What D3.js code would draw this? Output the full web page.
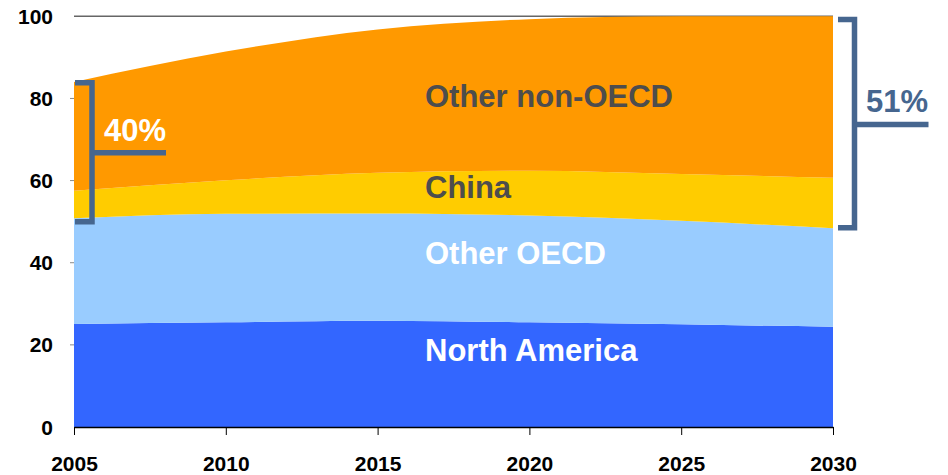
<!DOCTYPE html>
<html>
<head>
<meta charset="utf-8">
<script src="https://cdn.jsdelivr.net/npm/d3@7"></script>
<style>
  html, body { margin: 0; padding: 0; background: #fff; }
  svg { display: block; font-family: "Liberation Sans", Arial, sans-serif; }
</style>
</head>
<body>
<svg id="chart" width="948" height="475"></svg>
<script>
// ---- Data ----
const years = [2005, 2010, 2015, 2020, 2025, 2030];
const northAmerica = [25.1, 25.5, 25.9, 25.5, 25.0, 24.4];
const otherOECD    = [25.7, 26.4, 26.1, 26.0, 25.2, 24.0];
const china        = [6.7, 8.2, 9.9, 10.9, 11.4, 12.3];
const otherNonOECD = [26.5, 31.3, 34.9, 36.9, 38.4, 39.3];
const seriesNames  = ["North America", "Other OECD", "China", "Other non-OECD"];
const seriesColors = ["#3366ff", "#99ccff", "#ffcc00", "#ff9900"];
const labelColors  = ["#ffffff", "#ffffff", "#4d4d4d", "#4d4d4d"];
const labelValues  = [16.1, 39.7, 55.8, 77.9];   // baseline position (value units) of series labels
const yTicks = [0, 20, 40, 60, 80, 100];
const xTicks = [2005, 2010, 2015, 2020, 2025, 2030];
// Bracket annotations (value units)
const bracketLeft  = { year: 2005, lo: 50.0, hi: 83.8, mid: 66.8, text: "40%" };
const bracketRight = { year: 2030, lo: 48.5, hi: 99.2, mid: 73.65, text: "51%" };

// ---- Layout ----
const svg = d3.select("#chart");
const x = d3.scaleLinear().domain([2005, 2030]).range([74, 833]);
const y = d3.scaleLinear().domain([0, 100]).range([427, 16.3]);

const rows = years.map((yr, i) => ({
  year: yr,
  "North America": northAmerica[i],
  "Other OECD": otherOECD[i],
  "China": china[i],
  "Other non-OECD": otherNonOECD[i]
}));
const stack = d3.stack().keys(seriesNames)(rows);

const area = d3.area()
  .x(d => x(d.data.year))
  .y0(d => y(d[0]))
  .y1(d => y(d[1]))
  .curve(d3.curveMonotoneX);

// top gridline at 100
svg.append("line")
  .attr("x1", x(2005)).attr("x2", x(2030))
  .attr("y1", y(100)).attr("y2", y(100))
  .attr("stroke", "#666").attr("stroke-width", 1.5);

svg.append("g").selectAll("path")
  .data(stack)
  .join("path")
  .attr("d", area)
  .attr("fill", (d, i) => seriesColors[i]);

// Y axis ticks and labels
const yAxis = svg.append("g");
yAxis.selectAll("line").data(yTicks.filter(t => t > 0 && t < 100)).join("line")
  .attr("x1", x(2005) - 4).attr("x2", x(2005))
  .attr("y1", d => y(d)).attr("y2", d => y(d))
  .attr("stroke", "#888").attr("stroke-width", 1);
yAxis.selectAll("text").data(yTicks).join("text")
  .attr("x", 53).attr("y", d => y(d))
  .attr("dy", "0.36em")
  .attr("text-anchor", "end")
  .attr("font-size", 21).attr("font-weight", "bold").attr("fill", "#000")
  .text(d => d);

// X axis
const xAxis = d3.axisBottom(x).tickValues(xTicks).tickFormat(d3.format("d")).tickSize(8).tickSizeOuter(0);
const gx = svg.append("g").attr("transform", `translate(0,${y(0)})`).call(xAxis);
gx.select(".domain").attr("stroke", "#000").attr("stroke-width", 1.5);
gx.selectAll(".tick line").attr("stroke", "#000").attr("stroke-width", 1);
gx.selectAll(".tick text")
  .attr("y", 44).attr("dy", 0)
  .attr("font-size", 21).attr("font-weight", "bold").attr("fill", "#000")
  .attr("font-family", "Liberation Sans, Arial, sans-serif");

// Series labels
svg.append("g").selectAll("text").data(seriesNames).join("text")
  .attr("x", 425)
  .attr("y", (d, i) => y(labelValues[i]))
  .attr("font-size", 31).attr("font-weight", "bold")
  .attr("fill", (d, i) => labelColors[i])
  .text(d => d);

// Brackets
const bc = "#46668f";
function bracket(b, inner, startOff, armLen, textX, textDy, textColor) {
  const vx = x(b.year) + inner;
  const hx = x(b.year) + startOff;
  const g = svg.append("g").attr("fill", "none").attr("stroke", bc).attr("stroke-width", 5.5);
  g.append("path")
    .attr("d", `M${hx},${y(b.hi)}H${vx}V${y(b.lo)}H${hx}`);
  g.append("line")
    .attr("x1", vx).attr("x2", vx + armLen)
    .attr("y1", y(b.mid)).attr("y2", y(b.mid));
  svg.append("text")
    .attr("x", textX).attr("y", y(b.mid) + textDy)
    .attr("font-size", 31).attr("font-weight", "bold")
    .attr("fill", textColor)
    .text(b.text);
}
bracket(bracketLeft, 18, 1, 74, 104, -11.7, "#ffffff");
bracket(bracketRight, 21.5, 5, 74, 866, -12.8, bc);
</script>
</body>
</html>
